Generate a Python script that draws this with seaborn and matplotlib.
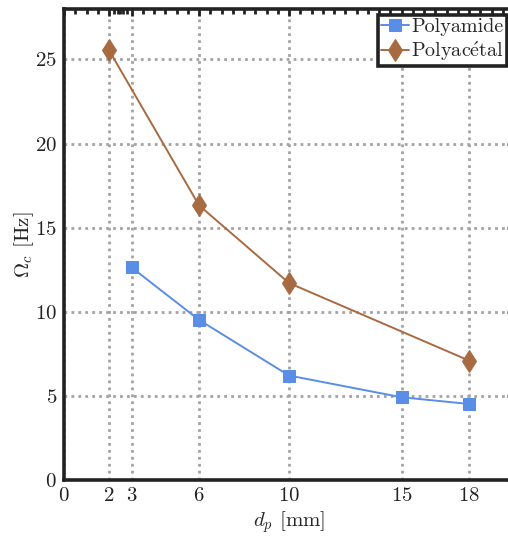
import numpy as np
import pandas as pd
import matplotlib
matplotlib.use("Agg")
import matplotlib.pyplot as plt
import seaborn as sns

# Data
x_polyamide = [3, 6, 10, 15, 18]
y_polyamide = [12.64, 9.52, 6.21, 4.92, 4.52]
x_polyacetal = [2, 6, 10, 18]
y_polyacetal = [25.55, 16.33, 11.71, 7.1]
xticks = [0, 2, 3, 6, 10, 15, 18]
yticks = [0, 5, 10, 15, 20, 25]
labels = ["Polyamide", r"Polyac$\mathrm{\acute{e}}$tal"]

sns.set_style("white")
plt.rcParams['font.family'] = ['cmr10', 'DejaVu Serif']
plt.rcParams['mathtext.fontset'] = 'cm'
plt.rcParams['axes.formatter.use_mathtext'] = True

fig = plt.figure(figsize=(5.08, 5.36), dpi=100)
ax = fig.add_axes([64/508, 1-480/536, 450/508, 471/536])

df_a = pd.DataFrame({"x": x_polyamide, "y": y_polyamide})
df_b = pd.DataFrame({"x": x_polyacetal, "y": y_polyacetal})

sns.lineplot(data=df_a, x="x", y="y", ax=ax, color="#5a8ee6", marker="s",
             markersize=9, linewidth=1.4, markeredgecolor="#5a8ee6",
             label=labels[0], zorder=3)
sns.lineplot(data=df_b, x="x", y="y", ax=ax, color="#a86a41", marker="d",
             markersize=11.5, linewidth=1.4, markeredgecolor="#a86a41",
             label=labels[1], zorder=3)

ax.set_xlim(0, 20)
ax.set_ylim(0, 28)
ax.set_xticks(xticks)
ax.set_yticks(yticks)
minor_x = list(np.arange(0, 20.01, 0.5)) + [2.2, 2.4, 2.6, 2.8]
ax.set_xticks(minor_x, minor=True)
ax.set_yticks(np.arange(0, 28.01, 1), minor=True)
ax.tick_params(which='both', direction='in', top=True, right=True,
               labelsize=15, colors='#222222', pad=5)
ax.tick_params(which='major', length=5, width=2)
ax.tick_params(which='minor', length=3.5, width=2)
for s in ax.spines.values():
    s.set_linewidth(2.6)
    s.set_color('#222222')
ax.grid(True, which='major', linestyle=(0, (1, 1.5)), color='#a3a3a3', linewidth=2)
ax.set_axisbelow(True)

ax.set_xlabel(r"$d_p$ [mm]", fontsize=15, labelpad=3)
ax.set_ylabel(r"$\Omega_c$ [Hz]", fontsize=15, labelpad=-1)

leg = ax.legend(loc='upper right', bbox_to_anchor=(507/508, 1-15/536),
                bbox_transform=fig.transFigure, fontsize=14.5, frameon=True,
                fancybox=False, framealpha=1, borderpad=0.15, handlelength=1.4,
                handletextpad=0.1, labelspacing=0.2, borderaxespad=0)
leg.get_frame().set_edgecolor('#222222')
leg.get_frame().set_linewidth(2.6)

fig.savefig("out.png", dpi=100)
